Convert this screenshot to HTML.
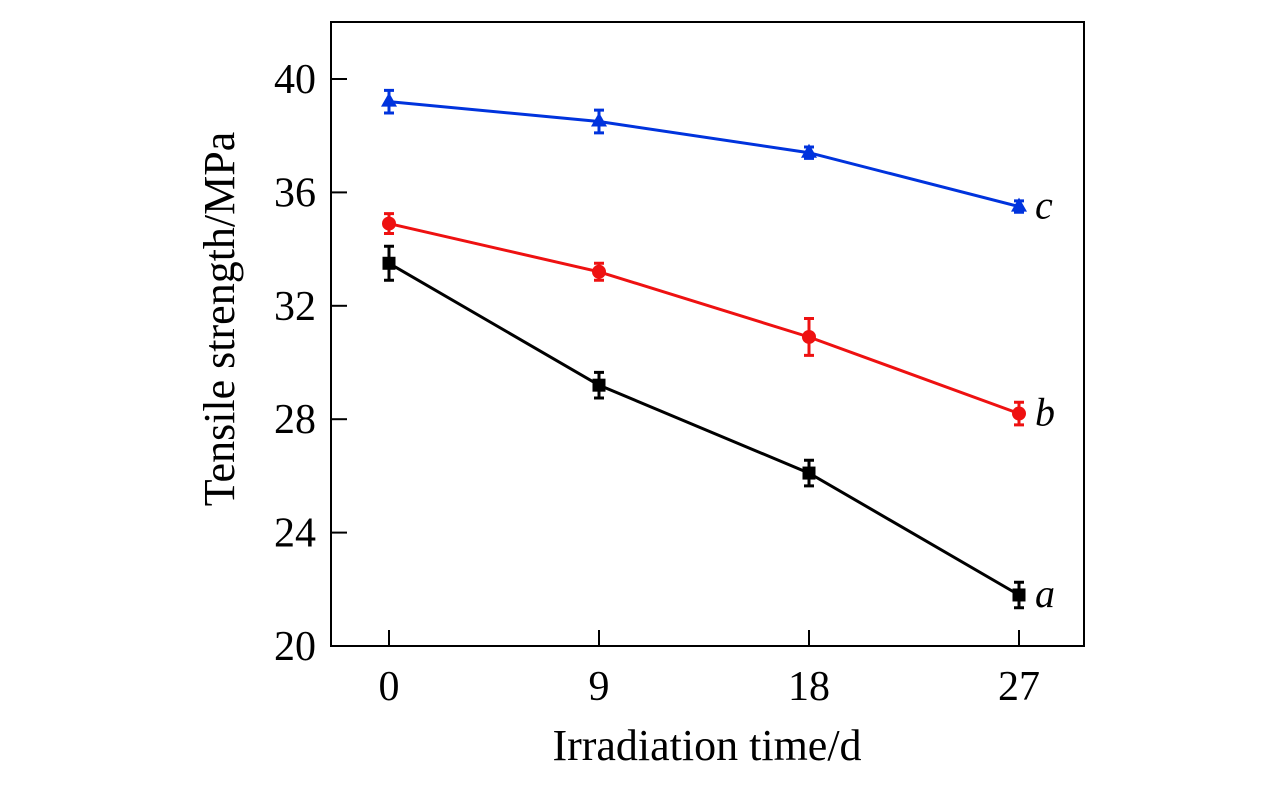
<!DOCTYPE html>
<html><head><meta charset="utf-8"><style>
body{margin:0;background:#fff}
svg{display:block;font-family:"Liberation Serif",serif}
</style></head><body>
<svg id="chart" width="1276" height="787">
<rect x="331" y="22" width="753" height="624" fill="none" stroke="#000" stroke-width="2"/>
<g id="ticks"></g><g id="series"></g>
<text x="707" y="760" font-size="44" text-anchor="middle">Irradiation time/d</text>
<text transform="translate(234,319) rotate(-90)" font-size="44" text-anchor="middle">Tensile strength/MPa</text>
</svg>
<script>
const xCats=[0,9,18,27];
const yTicks=[20,24,28,32,36,40];
const seriesNames=['a','b','c'];
const seriesColors=['#000000','#ee1111','#0033dd'];
const valsA=[33.5,29.2,26.1,21.8];
const valsB=[34.9,33.2,30.9,28.2];
const valsC=[39.2,38.5,37.4,35.5];
const errA=[0.6,0.45,0.45,0.45];
const errB=[0.35,0.3,0.65,0.4];
const errC=[0.4,0.4,0.2,0.2];
const X=v=>389+v*210/9, Y=v=>646-(v-20)*28.35;
const NS='http://www.w3.org/2000/svg';
function mk(t,a,p){const e=document.createElementNS(NS,t);for(const k in a)e.setAttribute(k,a[k]);p.appendChild(e);return e;}
const tg=document.getElementById('ticks');
xCats.forEach(v=>{
  const l=mk('line',{x1:X(v),x2:X(v),y1:646,y2:630,stroke:'#000','stroke-width':2},tg);
  
  
  const t=mk('text',{x:X(v),y:700,'font-size':42,'text-anchor':'middle'},tg);t.textContent=v;
  
  
});
yTicks.forEach(v=>{
  const l=mk('line',{x1:331,x2:347,y1:Y(v),y2:Y(v),stroke:'#000','stroke-width':2},tg);
  
  
  const t=mk('text',{x:316,y:Y(v)+14,'font-size':42,'text-anchor':'end'},tg);t.textContent=v;
  
  
});
const sg=document.getElementById('series');
[[valsA,errA],[valsB,errB],[valsC,errC]].forEach(([vals,errs],i)=>{
  const c=seriesColors[i];
  const g=mk('g',{},sg);
  
  
  mk('polyline',{points:vals.map((v,j)=>X(xCats[j])+','+Y(v)).join(' '),fill:'none',stroke:c,'stroke-width':3},g);
  vals.forEach((v,j)=>{
    const x=X(xCats[j]),y1=Y(v+errs[j]),y2=Y(v-errs[j]);
    mk('path',{d:`M${x},${y1}V${y2}M${x-5},${y1}H${x+5}M${x-5},${y2}H${x+5}`,stroke:c,'stroke-width':3,fill:'none'},g);
    let m;
    if(i===0)m=mk('rect',{x:x-6.5,y:Y(v)-6.5,width:13,height:13,fill:c},g);
    else if(i===1)m=mk('circle',{cx:x,cy:Y(v),r:7,fill:c},g);
    else m=mk('polygon',{points:`${x},${Y(v)-9} ${x-8},${Y(v)+5} ${x+8},${Y(v)+5}`,fill:c},g);
    
    
  });
  const lb=mk('text',{x:X(27)+16,y:Y(vals[3])+12,'font-size':40,'font-style':'italic'},g);
  lb.textContent=seriesNames[i];
  
  
});
</script>
</body></html>
